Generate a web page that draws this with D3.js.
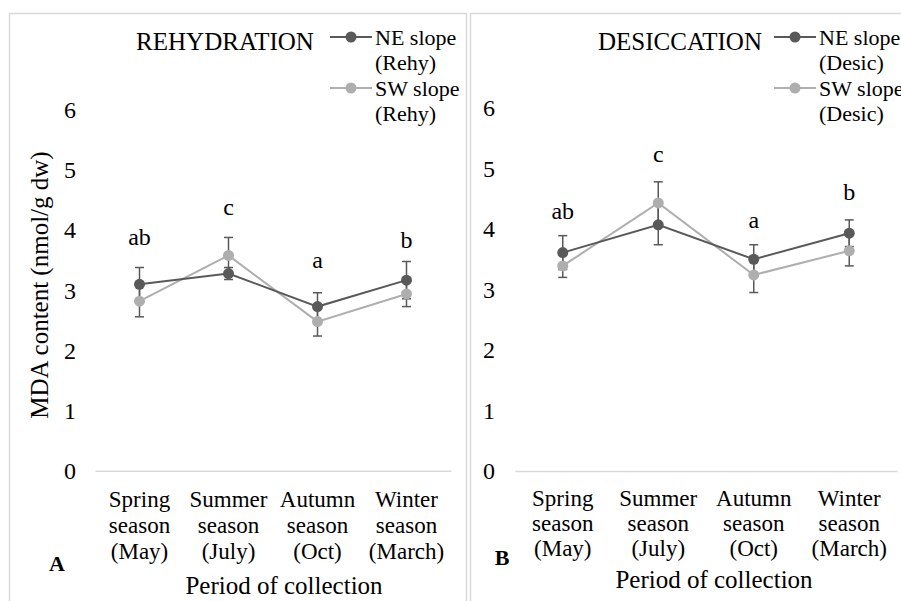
<!DOCTYPE html>
<html>
<head>
<meta charset="utf-8">
<script src="https://cdn.jsdelivr.net/npm/d3@7"></script>
<style>
  body { margin: 0; background: #fff; }
  text { font-family: "Liberation Serif", "Times New Roman", serif; fill: #000; }
</style>
</head>
<body>
<div id="chart"></div>
<script>
const categories = ["Spring season (May)", "Summer season (July)", "Autumn season (Oct)", "Winter season (March)"];
const categoryLines = [["Spring", "season", "(May)"], ["Summer", "season", "(July)"], ["Autumn", "season", "(Oct)"], ["Winter", "season", "(March)"]];
const yTicks = [0, 1, 2, 3, 4, 5, 6];
const letters = ["ab", "c", "a", "b"];

const rehyNE = [3.10, 3.28, 2.73, 3.17];
const rehyNEErr = [0.28, 0.10, 0.23, 0.31];
const rehySW = [2.82, 3.58, 2.48, 2.94];
const rehySWErr = [0.26, 0.30, 0.24, 0.21];
const rehyLetterY = [3.75, 4.25, 3.37, 3.70];

const desicNE = [3.61, 4.07, 3.50, 3.93];
const desicNEErr = [0.28, 0.33, 0.24, 0.22];
const desicSW = [3.39, 4.43, 3.24, 3.64];
const desicSWErr = [0.19, 0.35, 0.29, 0.25];
const desicLetterY = [4.16, 5.10, 4.01, 4.48];

const neColor = "#595959",
  swColor = "#aeaeae",
  errColor = "#595959",
  gridColor = "#d9d9d9",
  serif = "Liberation Serif, Times New Roman, serif";

const svg = d3.select("#chart").append("svg")
  .attr("width", 901)
  .attr("height", 601);

// panel frames
svg.append("rect").attr("x", 9.5).attr("y", 13.5).attr("width", 457).attr("height", 620)
  .attr("fill", "none").attr("stroke", gridColor).attr("stroke-width", 1.5);
svg.append("rect").attr("x", 470.5).attr("y", 13.5).attr("width", 460).attr("height", 620)
  .attr("fill", "none").attr("stroke", gridColor).attr("stroke-width", 1.5);

function drawPanel(p) {
  const x = d3.scaleBand().domain(categories).range(p.xRange);
  const y = d3.scaleLinear().domain([0, 6]).range(p.yRange);
  const cx = (i) => x(categories[i]) + x.bandwidth() / 2;
  const g = svg.append("g");

  // y ticks
  const ya = g.append("g")
    .attr("transform", "translate(" + p.yTickX + ",0)")
    .call(d3.axisLeft(y).tickValues(yTicks).tickSize(0).tickPadding(0).tickFormat(d3.format("d")));
  ya.attr("font-family", serif);
  ya.select(".domain").remove();
  ya.selectAll(".tick text")
    .attr("x", 0)
    .attr("text-anchor", "middle")
    .attr("font-size", 24)
    .attr("fill", "#000");

  // x axis
  const xa = g.append("g")
    .attr("transform", "translate(0," + y(0) + ")")
    .call(d3.axisBottom(x).tickSize(0).tickSizeOuter(0));
  xa.attr("font-family", serif);
  xa.select(".domain").attr("stroke", gridColor).attr("stroke-width", 1.5);
  xa.selectAll(".tick text").each(function (d, i) {
    const t = d3.select(this).text(null)
      .attr("y", 0).attr("dy", null)
      .attr("font-size", 23)
      .attr("fill", "#000");
    categoryLines[i].forEach((ln, k) => {
      t.append("tspan").attr("x", 0).attr("y", p.xLabelY + k * p.xLabelGap).text(ln);
    });
  });

  const line = d3.line().x((d, i) => cx(i)).y((d) => y(d));

  const series = [
    { v: p.sw, e: p.swErr, c: swColor },
    { v: p.ne, e: p.neErr, c: neColor },
  ];

  // error bars
  series.forEach((s) => {
    s.v.forEach((v, i) => {
      g.append("line").attr("x1", cx(i)).attr("x2", cx(i))
        .attr("y1", y(v - s.e[i])).attr("y2", y(v + s.e[i]))
        .attr("stroke", errColor).attr("stroke-width", 1.5);
      [v - s.e[i], v + s.e[i]].forEach((w) => {
        g.append("line").attr("x1", cx(i) - 4.5).attr("x2", cx(i) + 4.5)
          .attr("y1", y(w)).attr("y2", y(w))
          .attr("stroke", errColor).attr("stroke-width", 1.5);
      });
    });
  });

  // lines + markers
  series.forEach((s) => {
    g.append("path").datum(s.v)
      .attr("fill", "none").attr("stroke", s.c).attr("stroke-width", 2)
      .attr("d", line);
    g.selectAll(null).data(s.v).enter().append("circle")
      .attr("cx", (d, i) => cx(i)).attr("cy", (d) => y(d))
      .attr("r", 5.5).attr("fill", s.c);
  });

  // significance letters
  g.selectAll(null).data(letters).enter().append("text")
    .attr("x", (d, i) => cx(i)).attr("y", (d, i) => y(p.letterY[i]))
    .attr("text-anchor", "middle").attr("font-size", 24)
    .text((d) => d);

  // title
  g.append("text").attr("x", p.titleX).attr("y", 50)
    .attr("text-anchor", "middle").attr("font-size", 25).text(p.title);

  // legend
  [{ c: neColor, y: 37, l: ["NE slope", p.tag] }, { c: swColor, y: 88, l: ["SW slope", p.tag] }]
    .forEach((it) => {
      g.append("line").attr("x1", p.legX).attr("x2", p.legX + 42)
        .attr("y1", it.y).attr("y2", it.y).attr("stroke", it.c).attr("stroke-width", 2);
      g.append("circle").attr("cx", p.legX + 21).attr("cy", it.y).attr("r", 5.5).attr("fill", it.c);
      it.l.forEach((ln, k) => {
        g.append("text").attr("x", p.legX + 45).attr("y", it.y + 8 + k * 24.5)
          .attr("font-size", 22).text(ln);
      });
    });

  // axis title
  g.append("text").attr("x", p.axisTitleX).attr("y", p.axisTitleY)
    .attr("text-anchor", "middle").attr("font-size", 25).text("Period of collection");

  // panel letter
  g.append("text").attr("x", p.panelX).attr("y", p.panelY)
    .attr("text-anchor", "middle").attr("font-size", 22).attr("font-weight", "bold").text(p.panel);
}

drawPanel({
  xRange: [95, 451], yRange: [470.7, 110], yTickX: 70,
  ne: rehyNE, neErr: rehyNEErr, sw: rehySW, swErr: rehySWErr, letterY: rehyLetterY,
  xLabelY: 36, xLabelGap: 26,
  title: "REHYDRATION", titleX: 225, legX: 330, tag: "(Rehy)",
  axisTitleX: 284, axisTitleY: 594, panel: "A", panelX: 57, panelY: 571,
});

drawPanel({
  xRange: [515, 897], yRange: [471, 108], yTickX: 489,
  ne: desicNE, neErr: desicNEErr, sw: desicSW, swErr: desicSWErr, letterY: desicLetterY,
  xLabelY: 35, xLabelGap: 25,
  title: "DESICCATION", titleX: 680, legX: 774, tag: "(Desic)",
  axisTitleX: 714, axisTitleY: 588, panel: "B", panelX: 502, panelY: 565,
});

svg.append("text")
  .attr("transform", "translate(48,285) rotate(-90)")
  .attr("text-anchor", "middle").attr("font-size", 25)
  .text("MDA content (nmol/g dw)");
</script>
</body>
</html>
